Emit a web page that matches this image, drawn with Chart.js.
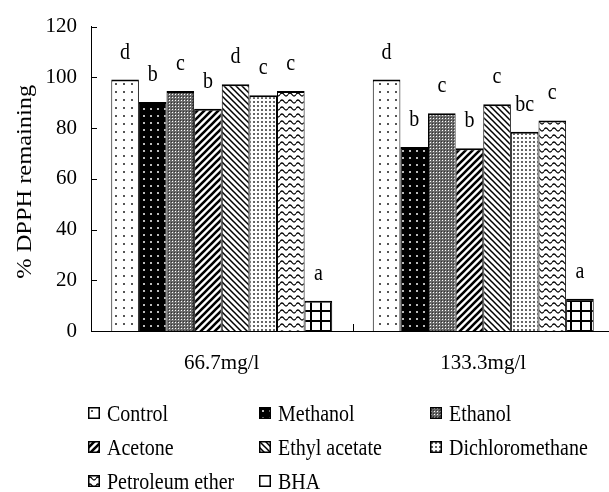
<!DOCTYPE html>
<html>
<head>
<meta charset="utf-8">
<script src="https://cdn.jsdelivr.net/npm/chart.js@4.4.1/dist/chart.umd.min.js"></script>
<style>
  html, body { margin:0; padding:0; background:#fff; overflow:hidden; width:609px; height:492px; }
  #wrap { position:relative; width:616px; height:492px; }
  #c { position:absolute; left:0; top:0; }
  .lg { position:absolute; height:20px; display:flex; align-items:center; white-space:nowrap;
        font-family:"Liberation Serif","Times New Roman",serif; font-size:20px; line-height:20px; color:#000; }
  .lg canvas { width:12px; height:12px; margin-right:7px; display:block; }
  .lg span { display:inline-block; transform:scaleY(1.15); }
</style>
</head>
<body>
<div id="wrap">
  <canvas id="c" width="616" height="492"></canvas>
  <div id="legend"></div>
</div>
<script>
// ---- data ----
const categories = ['66.7mg/l', '133.3mg/l'];
const seriesNames = ['Control', 'Methanol', 'Ethanol', 'Acetone', 'Ethyl acetate', 'Dichloromethane', 'Petroleum ether', 'BHA'];
const control         = [99.1, 99.1];
const methanol        = [90.3, 72.5];
const ethanol         = [94.6, 85.8];
const acetone         = [87.6, 72.0];
const ethylAcetate    = [97.3, 89.4];
const dichloromethane = [92.9, 78.5];
const petroleumEther  = [94.6, 83.0];
const bha             = [11.9, 12.7];
// significance letters
const controlLetters         = ['d', 'd'];
const methanolLetters        = ['b', 'b'];
const ethanolLetters         = ['c', 'c'];
const acetoneLetters         = ['b', 'b'];
const ethylAcetateLetters    = ['d', 'c'];
const dichloromethaneLetters = ['c', 'bc'];
const petroleumEtherLetters  = ['c', 'c'];
const bhaLetters             = ['a', 'a'];
const yMin = 0, yMax = 120, yStep = 20;
const yTitle = '% DPPH remaining';

const seriesValues = [control, methanol, ethanol, acetone, ethylAcetate, dichloromethane, petroleumEther, bha];
const seriesLetters = [controlLetters, methanolLetters, ethanolLetters, acetoneLetters, ethylAcetateLetters, dichloromethaneLetters, petroleumEtherLetters, bhaLetters];

// ---- patterns ----
const patCtx = document.createElement('canvas').getContext('2d');
function tile(w, h, draw) {
  const c = document.createElement('canvas');
  c.width = w; c.height = h;
  const g = c.getContext('2d');
  draw(g, w, h);
  return patCtx.createPattern(c, 'repeat');
}
const patterns = [
  // Control: white with sparse dots
  tile(8, 8, (g) => { g.fillStyle = '#fff'; g.fillRect(0,0,8,8); g.fillStyle = '#555'; g.fillRect(3,3,2,2); }),
  // Methanol: black with light dots
  tile(7, 7, (g) => { g.fillStyle = '#000'; g.fillRect(0,0,7,7); g.fillStyle = '#bbb'; g.fillRect(3,3,2,2); }),
  // Ethanol: fine gray checker
  tile(3, 3, (g) => { g.fillStyle = '#6a6a6a'; g.fillRect(0,0,3,3); g.fillStyle = '#fff'; g.fillRect(1,1,1,1); g.fillStyle = '#333'; g.fillRect(0,0,1,1); }),
  // Acetone: thick forward diagonal
  tile(7, 7, (g) => { g.fillStyle = '#fff'; g.fillRect(0,0,7,7); g.strokeStyle = '#000'; g.lineWidth = 2.6;
    g.beginPath(); g.moveTo(-1,8); g.lineTo(8,-1); g.moveTo(-4,4); g.lineTo(4,-4); g.moveTo(3,11); g.lineTo(11,3); g.stroke(); }),
  // Ethyl acetate: thin back diagonal
  tile(6, 6, (g) => { g.fillStyle = '#fff'; g.fillRect(0,0,6,6); g.strokeStyle = '#000'; g.lineWidth = 1.5;
    g.beginPath(); g.moveTo(-1,-1); g.lineTo(7,7); g.moveTo(-4,2); g.lineTo(2,8); g.moveTo(2,-4); g.lineTo(8,2); g.stroke(); }),
  // Dichloromethane: dense small dots
  tile(4, 4, (g) => { g.fillStyle = '#fff'; g.fillRect(0,0,4,4); g.fillStyle = '#666'; g.fillRect(1,1,2,2); }),
  // Petroleum ether: wavy lines
  tile(8, 7, (g) => { g.fillStyle = '#fff'; g.fillRect(0,0,8,7); g.strokeStyle = '#000'; g.lineWidth = 1.3;
    g.beginPath(); g.moveTo(0,3.5); g.quadraticCurveTo(2,0.5,4,3.5); g.quadraticCurveTo(6,6.5,8,3.5); g.stroke(); }),
  // BHA: large grid
  tile(10, 10, (g) => { g.fillStyle = '#fff'; g.fillRect(0,0,10,10); g.fillStyle = '#000'; g.fillRect(0,0,2,10); g.fillRect(0,0,10,2); })
];
// BHA legend swatch is drawn plain white, as in the reference
const legendFills = patterns.slice(0, 7).concat(['#fff']);

const FONT = "'Liberation Serif', 'Times New Roman', serif";

const datasets = seriesNames.map((name, i) => ({
  label: name,
  data: seriesValues[i],
  letters: seriesLetters[i],
  backgroundColor: patterns[i],
  borderColor: '#000',
  borderWidth: { top: 2, left: 1, right: 1, bottom: 0 },
  borderSkipped: false,
  barPercentage: 1.0,
  categoryPercentage: 0.845
}));

// letters above bars
const lettersPlugin = {
  id: 'letters',
  afterDatasetsDraw(chart) {
    const ctx = chart.ctx;
    ctx.save();
    ctx.fillStyle = '#000';
    ctx.font = '20px ' + FONT;
    ctx.textAlign = 'center';
    ctx.textBaseline = 'alphabetic';
    chart.data.datasets.forEach((ds, di) => {
      const meta = chart.getDatasetMeta(di);
      meta.data.forEach((el, j) => {
        const t = ds.letters[j];
        ctx.save();
        ctx.translate(el.x, el.y - 21);
        ctx.scale(1, 1.18);
        ctx.fillText(t, 0, 0);
        ctx.restore();
      });
    });
    ctx.restore();
  }
};

// inside tick marks + stretched y title
const axisDecor = {
  id: 'axisDecor',
  afterDraw(chart) {
    const ctx = chart.ctx;
    const ys = chart.scales.y, xs = chart.scales.x;
    const area = chart.chartArea;
    ctx.save();
    ctx.strokeStyle = '#000';
    ctx.lineWidth = 1;
    ctx.beginPath();
    ys.ticks.forEach(t => {
      const y = Math.round(ys.getPixelForValue(t.value)) + 0.5;
      ctx.moveTo(area.left, y); ctx.lineTo(area.left + 6, y);
    });
    const n = categories.length;
    for (let i = 0; i <= n; i++) {
      let x;
      if (i === 0) x = area.left;
      else if (i === n) x = area.right;
      else x = (xs.getPixelForValue(i - 1) + xs.getPixelForValue(i)) / 2;
      x = Math.round(x) + 0.5;
      ctx.moveTo(x, area.bottom); ctx.lineTo(x, area.bottom - 7);
    }
    ctx.stroke();

    // y title
    ctx.fillStyle = '#000';
    ctx.font = '20px ' + FONT;
    ctx.textAlign = 'center';
    ctx.textBaseline = 'middle';
    ctx.translate(26, (area.top + area.bottom) / 2 + 3);
    ctx.rotate(-Math.PI / 2);
    ctx.scale(1.22, 1);
    ctx.fillText(yTitle, 0, 0);
    ctx.restore();
  }
};

const chart = new Chart(document.getElementById('c'), {
  type: 'bar',
  data: { labels: categories, datasets },
  options: {
    responsive: false,
    animation: false,
    devicePixelRatio: 1,
    layout: { padding: { top: 24, left: 0, right: 2, bottom: 0 } },
    plugins: { legend: { display: false }, tooltip: { enabled: false }, title: { display: false } },
    scales: {
      x: {
        grid: { display: false, drawTicks: false },
        border: { display: true, color: '#000', width: 1 },
        ticks: { color: '#000', font: { family: FONT, size: 21 }, padding: 20, maxRotation: 0 },
        afterFit(s) { s.height = 161; }
      },
      y: {
        min: yMin, max: yMax,
        grid: { display: false, drawTicks: false },
        border: { display: true, color: '#000', width: 1 },
        ticks: { stepSize: yStep, color: '#000', font: { family: FONT, size: 21 }, padding: 14 },
        afterFit(s) { s.width = 91; }
      }
    }
  },
  plugins: [lettersPlugin, axisDecor]
});

// HTML legend (3 columns)
const legendCols = [88, 259, 430];
const legendRows = [413, 447, 481];
const legendEl = document.getElementById('legend');
seriesNames.forEach((name, i) => {
  const col = i % 3, row = Math.floor(i / 3);
  const item = document.createElement('div');
  item.className = 'lg';
  item.style.left = legendCols[col] + 'px';
  item.style.top = (legendRows[row] - 10) + 'px';
  const sw = document.createElement('canvas');
  sw.width = 12; sw.height = 12;
  const g = sw.getContext('2d');
  g.fillStyle = legendFills[i];
  g.fillRect(0, 0, 12, 12);
  g.strokeStyle = '#000';
  g.lineWidth = 1.5;
  g.strokeRect(0.75, 0.75, 10.5, 10.5);
  const sp = document.createElement('span');
  sp.textContent = name;
  item.appendChild(sw);
  item.appendChild(sp);
  legendEl.appendChild(item);
});
</script>
</body>
</html>
